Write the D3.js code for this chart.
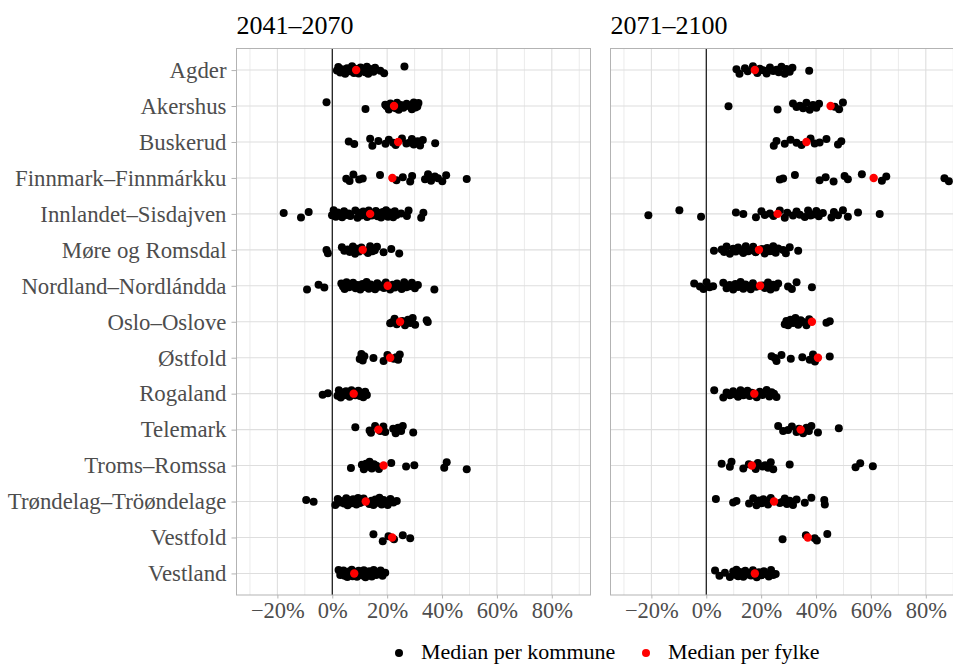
<!DOCTYPE html>
<html><head><meta charset="utf-8">
<script src="https://cdn.jsdelivr.net/npm/d3@7"></script>
<style>body{margin:0;background:#fff}svg{display:block}text{font-family:"Liberation Serif","Times New Roman",serif}</style>
</head><body><svg id="c" width="953" height="664"></svg>
<script>
const categories = ["Agder","Akershus","Buskerud","Finnmark–Finnmárkku","Innlandet–Sisdajven","Møre og Romsdal","Nordland–Nordlándda","Oslo–Oslove","Østfold","Rogaland","Telemark","Troms–Romssa","Trøndelag–Tröøndelage","Vestfold","Vestland"];
const periods = ["2041–2070","2071–2100"];
const xTicks = [-20,0,20,40,60,80];
const xTickLabels = ["−20%","0%","20%","40%","60%","80%"];
const legendLabels = ["Median per kommune","Median per fylke"];

// Median per kommune (%), 2041–2070
const kommune2041 = [
 [1.7,2.2,2.9,3.5,4.7,5.4,6.5,7.2,7.9,8.3,9.1,9.6,10.3,10.8,11.4,12.0,12.6,13.1,13.8,15.0,15.6,17.5,18.9,26.3],
 [-2.1,12.1,19.3,19.8,20.6,21.2,21.7,22.4,23.1,23.6,24.2,25.0,25.9,27.1,28.4,29.0,29.7,30.3,31.0,31.4],
 [6.0,8.0,13.8,14.6,16.8,19.4,20.6,22.2,23.1,25.4,27.0,28.3,29.0,29.7,31.1,32.0,33.0,37.5],
 [5.1,6.3,7.7,9.8,11.1,17.4,23.4,25.7,28.4,29.1,33.8,34.9,36.0,37.4,38.5,40.1,41.5,49.0],
 [-17.7,-11.4,-8.6,-0.1,0.5,1.3,2.0,2.8,3.6,4.3,5.1,6.0,6.6,8.4,9.2,9.8,10.5,11.3,12.0,12.7,13.3,14.4,15.2,15.9,16.5,17.1,17.8,18.4,19.1,19.6,20.3,21.0,21.7,22.2,22.8,23.4,25.1,27.2,27.8,32.4,33.2],
 [-2.1,-1.6,3.5,4.4,5.6,6.4,7.5,8.3,9.0,9.8,10.6,12.1,13.0,13.8,14.6,15.5,16.3,18.7,21.5,24.4],
 [-9.2,-5.0,-2.9,3.3,3.9,4.5,5.2,6.1,6.8,7.6,8.5,9.3,10.2,11.0,11.8,12.5,13.3,14.0,14.8,15.6,16.4,17.2,18.1,18.8,19.5,21.1,22.0,22.8,23.6,24.5,25.3,26.2,27.0,28.1,29.0,30.1,31.2,37.2],
 [21.1,21.8,22.7,23.5,25.5,26.5,27.6,28.4,29.3,30.2,34.4,34.8],
 [10.0,10.6,11.1,11.7,15.0,18.7,20.1,22.4,23.3,24.0,24.6],
 [-3.5,-1.6,1.9,2.4,3.1,3.6,4.3,5.0,5.7,6.3,7.0,8.4,8.9,9.5,10.1,10.6,11.3,12.0,12.6],
 [8.4,13.6,14.1,15.6,17.5,18.0,18.6,19.3,22.2,23.1,24.0,25.1,25.7,29.5],
 [6.8,10.8,11.5,12.3,13.1,13.6,14.4,15.2,16.1,17.0,21.5,26.9,29.9,40.8,41.7,49.0],
 [-9.5,-6.8,1.1,2.0,2.6,3.4,4.3,5.1,5.6,6.4,7.0,7.6,8.3,8.8,9.4,10.1,10.7,11.4,13.5,14.3,15.0,15.7,16.4,17.2,18.0,18.7,19.4,20.2,21.2,22.3,23.5],
 [15.0,18.4,20.5,22.5,25.7,28.4],
 [2.3,2.9,3.4,4.1,4.5,5.1,5.5,6.1,6.5,7.1,7.4,8.1,8.6,9.0,9.6,10.0,10.4,11.1,11.5,12.1,12.4,13.1,13.5,14.1,14.4,15.1,16.0,16.8,17.6,18.3,19.3]
];
// Median per kommune (%), 2071–2100
const kommune2071 = [
 [11.0,12.1,14.1,15.1,17.0,18.6,19.5,20.7,22.0,23.2,24.4,25.6,26.4,27.4,28.6,29.2,30.4,31.4,37.5],
 [8.1,26.0,31.6,32.9,34.1,35.3,36.5,37.7,38.9,40.1,41.1,46.8,48.4,49.8],
 [24.6,25.6,28.6,30.7,32.9,34.7,38.0,39.5,41.3,43.8,48.0,49.2],
 [26.8,28.0,32.3,41.3,43.5,46.4,50.4,51.6,56.7,64.0,65.6,86.8,88.4],
 [-21.1,-9.8,-1.9,10.8,13.5,18.1,20.1,21.3,23.2,24.5,26.8,28.6,29.5,31.6,32.9,34.1,35.9,37.1,38.0,38.9,40.1,41.0,42.5,45.6,46.5,48.0,49.8,51.6,55.3,63.2],
 [2.8,5.6,6.5,7.4,8.6,9.8,10.7,11.6,12.5,13.5,14.4,15.3,16.2,17.1,18.0,20.3,21.3,22.2,23.2,24.4,25.3,26.2,28.0,29.0,30.4,33.5],
 [-4.4,-2.3,-1.0,0.1,1.2,2.5,6.2,7.4,8.5,9.8,10.6,11.6,12.5,13.5,14.3,15.3,16.2,17.0,18.2,20.6,21.3,22.5,23.4,24.4,25.3,26.2,29.8,31.2,32.9,38.5],
 [28.6,29.2,29.8,30.7,31.6,32.5,33.5,34.4,35.3,36.5,37.5,43.8,45.0],
 [23.8,25.0,25.6,27.4,30.8,35.0,37.7,38.9,39.6,45.0],
 [2.9,6.2,7.4,8.6,9.8,10.7,11.6,12.5,13.5,14.2,15.0,15.8,16.6,18.4,19.5,20.5,22.0,23.0,23.8,24.7,25.6],
 [26.2,28.0,29.8,31.2,32.9,33.8,35.3,36.5,37.4,38.3,40.7,48.3],
 [5.6,8.6,9.2,13.5,15.5,17.4,18.0,18.8,20.5,21.5,22.5,23.5,24.4,30.4,54.4,56.1,60.7],
 [3.5,9.8,11.0,15.6,17.1,18.3,19.2,20.1,20.8,21.3,22.5,23.5,26.8,27.6,28.6,29.4,30.4,31.6,32.9,35.9,38.3,43.2,43.0],
 [27.8,36.3,39.5,40.3,44.1],
 [3.2,4.8,6.8,8.6,9.8,10.4,11.0,11.6,12.3,13.0,13.5,14.2,15.0,15.6,16.3,17.0,18.4,19.2,20.1,21.0,22.0,22.8,23.6,24.4,25.3]
];
// Median per fylke (%)
const fylke2041 = [8.7,22.5,24.0,21.9,13.8,11.1,20.2,24.7,21.1,7.8,16.8,18.7,12.2,21.8,8.0];
const fylke2071 = [17.7,45.3,36.5,61.0,26.0,19.2,19.6,38.5,40.7,17.5,34.4,16.6,24.7,37.0,17.7];

const kommuneData = [kommune2041, kommune2071];
const fylkeData = [fylke2041, fylke2071];

const svg = d3.select("#c");
const topY = 48.5, bottomY = 595, panelW = 354;
const panelX = [236.5, 610.5];
const font = '"Liberation Serif","Times New Roman",serif';

const y = d3.scalePoint().domain(categories).range([topY, bottomY]).padding(0.6);
// fixed vertical jitter pattern (pixels)
const jitterPattern = [0.5,-3.0,2.4,-0.8,3.6,-1.9,1.3,-3.7,2.9,-1.4,0.2,3.4,-2.6,1.0,-0.4,2.1,-3.3,3.8,-1.1,1.7,-2.3,0.8,3.1,-3.5,1.5];
const jit = i => jitterPattern[i % jitterPattern.length];

periods.forEach((p, k) => {
  const x = d3.scaleLinear().domain([-34.9, 94.1]).range([panelX[k], panelX[k] + panelW]);
  const g = svg.append("g");
  const clipId = "clip" + k;
  svg.append("clipPath").attr("id", clipId).append("rect")
    .attr("x", panelX[k]).attr("y", topY).attr("width", panelW).attr("height", bottomY - topY);
  g.selectAll(".minor").data(d3.range(-30, 91, 20)).join("line")
    .attr("x1", d => x(d)).attr("x2", d => x(d)).attr("y1", topY).attr("y2", bottomY)
    .attr("stroke", "#ebebeb").attr("stroke-width", 1);
  g.selectAll(".major").data(xTicks).join("line")
    .attr("x1", d => x(d)).attr("x2", d => x(d)).attr("y1", topY).attr("y2", bottomY)
    .attr("stroke", "#dedede").attr("stroke-width", 1.1);
  g.selectAll(".hmaj").data(categories).join("line")
    .attr("x1", panelX[k]).attr("x2", panelX[k] + panelW).attr("y1", d => y(d)).attr("y2", d => y(d))
    .attr("stroke", "#dedede").attr("stroke-width", 1.1);
  g.append("line").attr("x1", x(0)).attr("x2", x(0)).attr("y1", topY).attr("y2", bottomY)
    .attr("stroke", "#000").attr("stroke-width", 1.1);
  const pts = [];
  categories.forEach((c, ci) => kommuneData[k][ci].forEach((v, i) => pts.push({c, v, i: i + ci * 7 + k * 3})));
  const pg = g.append("g").attr("clip-path", `url(#${clipId})`);
  pg.selectAll("circle.k").data(pts).join("circle")
    .attr("cx", d => x(d.v)).attr("cy", d => y(d.c) + jit(d.i)).attr("r", 4).attr("fill", "#000");
  pg.selectAll("circle.f").data(categories).join("circle")
    .attr("cx", (d, i) => x(fylkeData[k][i])).attr("cy", d => y(d)).attr("r", 4.2).attr("fill", "#ff0000");
  g.append("rect").attr("x", panelX[k]).attr("y", topY).attr("width", panelW).attr("height", bottomY - topY)
    .attr("fill", "none").attr("stroke", "#b3b3b3").attr("stroke-width", 1);
  const xa = g.append("g").attr("transform", `translate(0,${bottomY})`)
    .call(d3.axisBottom(x).tickValues(xTicks).tickFormat((d, i) => xTickLabels[i]).tickSize(3.5).tickPadding(4));
  xa.select(".domain").remove();
  xa.selectAll("line").attr("stroke", "#b3b3b3");
  xa.selectAll("text").attr("font-family", font).attr("font-size", 22.5).attr("fill", "#4d4d4d");
  svg.append("text").attr("x", panelX[k]).attr("y", 34).attr("font-size", 26).attr("fill", "#000").text(p);
  if (k === 0) {
    const ya = g.append("g").attr("transform", `translate(${panelX[0]},0)`)
      .call(d3.axisLeft(y).tickSize(5).tickPadding(5));
    ya.select(".domain").remove();
    ya.selectAll("line").attr("stroke", "#b3b3b3");
    ya.selectAll("text").attr("font-family", font).attr("font-size", 22.8).attr("fill", "#4d4d4d");
  }
});

const leg = svg.append("g");
const legX = [399, 646], legCol = ["#000", "#ff0000"];
legendLabels.forEach((t, i) => {
  leg.append("circle").attr("cx", legX[i]).attr("cy", 653).attr("r", 4).attr("fill", legCol[i]);
  leg.append("text").attr("x", legX[i] + 22).attr("y", 658.5).attr("font-size", 22).attr("fill", "#000").text(t);
});
</script></body></html>
